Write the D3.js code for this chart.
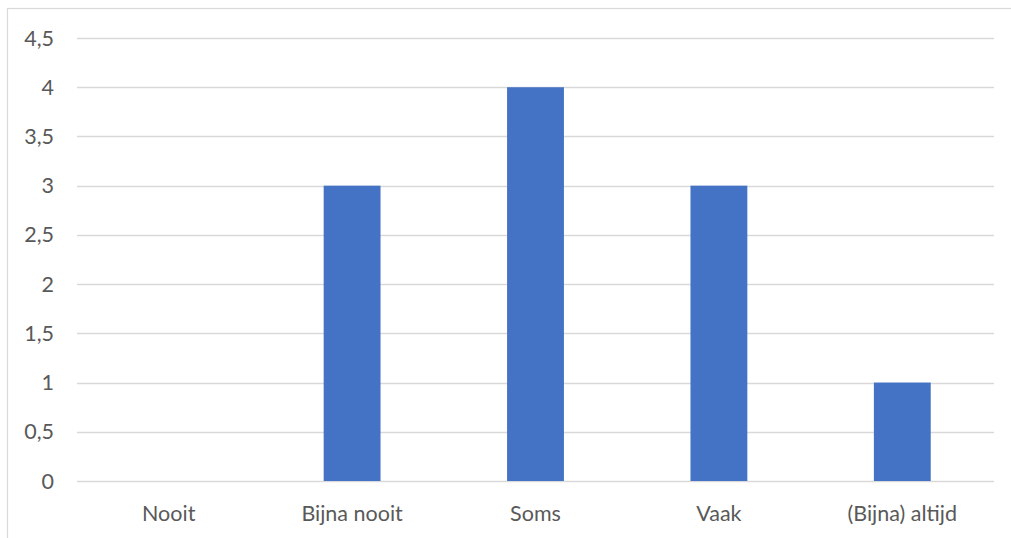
<!DOCTYPE html>
<html>
<head>
<meta charset="utf-8">
<script src="https://cdn.jsdelivr.net/npm/d3@7"></script>
<style>
  body { margin: 0; background: #fff; }
  text { font-family: Lato, "Open Sans", sans-serif; fill: #595959; font-size: 21.5px; }
</style>
</head>
<body>
<div id="chart"></div>
<script>
// data
var categories = ["Nooit", "Bijna nooit", "Soms", "Vaak", "(Bijna) altijd"];
var values = [0, 3, 4, 3, 1];
var yTicks = [0, 0.5, 1, 1.5, 2, 2.5, 3, 3.5, 4, 4.5];

var width = 1011, height = 538;
var plotLeft = 77, plotRight = 994, plotTop = 38, plotBottom = 481;

var svg = d3.select("#chart").append("svg")
  .attr("width", width).attr("height", height);

// outer border
svg.append("rect")
  .attr("x", 7.5).attr("y", 8.5)
  .attr("width", 1010).attr("height", 540)
  .attr("fill", "none").attr("stroke", "#d9d9d9").attr("stroke-width", 1.2);

var x = d3.scaleBand().domain(categories).range([plotLeft, plotRight]).paddingInner(0.69).paddingOuter(0.345);
var xc = d3.scaleBand().domain(categories).range([plotLeft, plotRight]);
var y = d3.scaleLinear().domain([0, 4.5]).range([plotBottom, plotTop]);

// gridlines
svg.append("g").selectAll("line").data(yTicks).enter().append("line")
  .attr("x1", plotLeft).attr("x2", plotRight)
  .attr("y1", function(d) { return Math.round(y(d)) + 0.5; })
  .attr("y2", function(d) { return Math.round(y(d)) + 0.5; })
  .attr("stroke", "#d9d9d9").attr("stroke-width", 1.3);

// y labels
svg.append("g").selectAll("text").data(yTicks).enter().append("text")
  .attr("x", 54).attr("y", function(d) { return y(d); })
  .attr("dy", "0.35em").attr("text-anchor", "end")
  .text(function(d) { return String(d).replace(".", ","); });

// bars
svg.append("g").selectAll("rect").data(values).enter().append("rect")
  .attr("x", function(d, i) { return x(categories[i]); })
  .attr("width", x.bandwidth())
  .attr("y", function(d) { return y(d); })
  .attr("height", function(d) { return plotBottom - y(d); })
  .attr("fill", "#4472c4");

// x labels
svg.append("g").selectAll("text").data(categories).enter().append("text")
  .attr("x", function(d) { return xc(d) + xc.bandwidth() / 2; })
  .attr("y", 521).attr("text-anchor", "middle")
  .text(function(d) { return d; });
</script>
</body>
</html>
